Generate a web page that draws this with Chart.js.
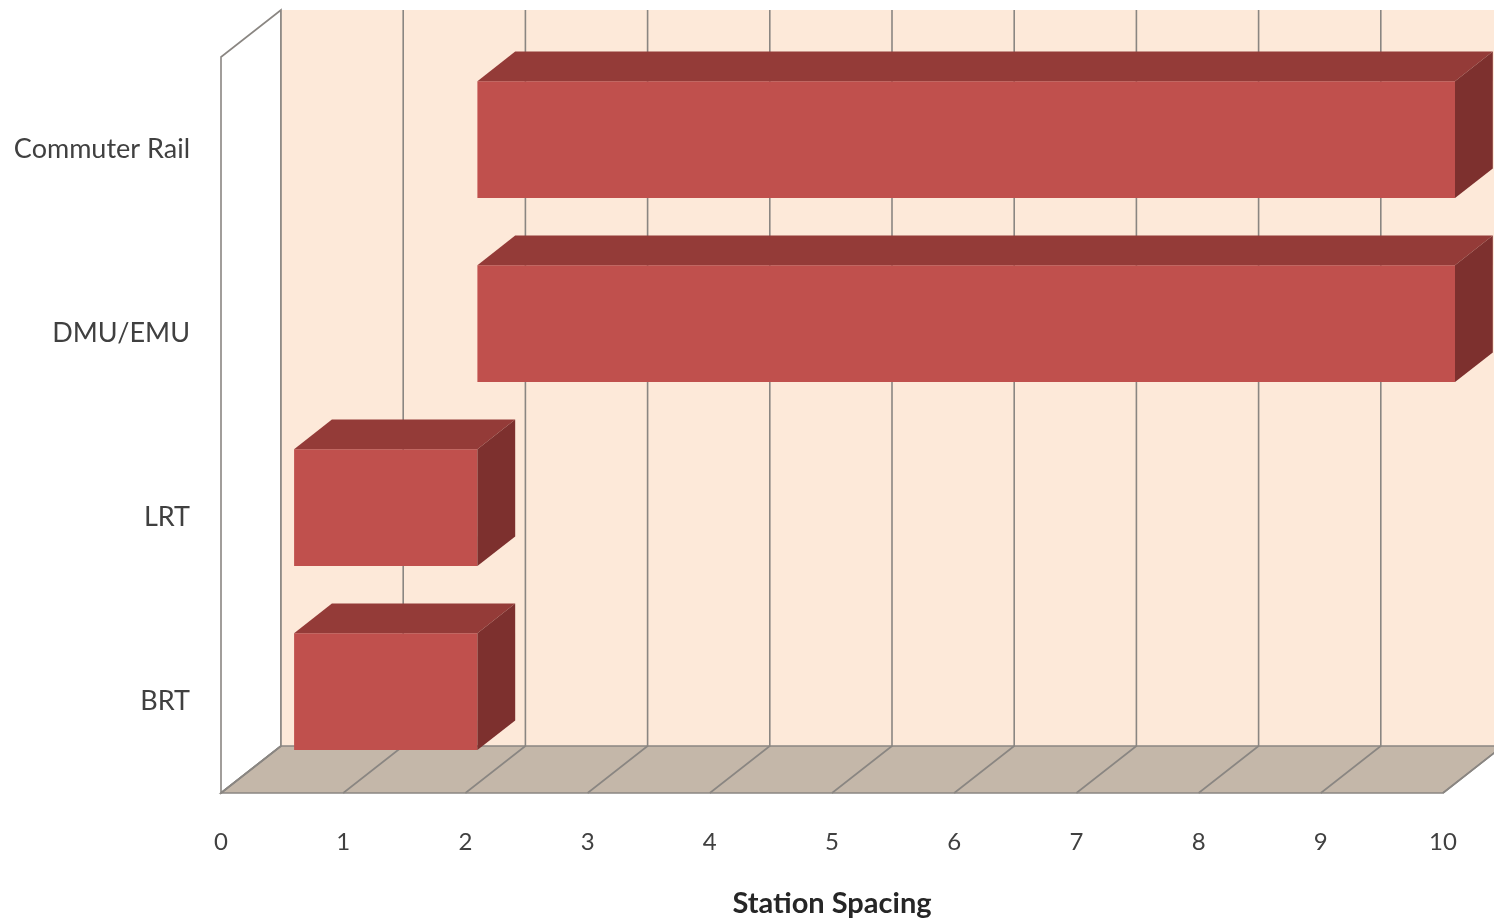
<!DOCTYPE html>
<html>
<head>
<meta charset="utf-8">
<script src="https://cdn.jsdelivr.net/npm/chart.js@4.4.1/dist/chart.umd.min.js"></script>
<style>
    html, body { margin: 0; padding: 0; background: #ffffff; }
    #wrap { width: 1494px; height: 921px; }
</style>
</head>
<body>
<div id="wrap"><canvas id="chart" width="1494" height="921"></canvas></div>
<script>
// Chart values
const modes = ['Commuter Rail', 'DMU/EMU', 'LRT', 'BRT'];
const spacingMin = [2, 2, 0.5, 0.5];
const spacingMax = [10, 10, 2, 2];
const xTicks = [0, 1, 2, 3, 4, 5, 6, 7, 8, 9, 10];

// Perspective of the 3-D box (offset of the back wall from the front plane)
const depth = { dx: 60, dy: -47 };
const barDepth = { front: 0.2, back: 0.83 };

const colors = {
    front: '#c0504d',
    top: '#943b38',
    side: '#7d302e',
    wall: '#fde9d9',
    floor: '#c4b7a9',
    grid: '#8a8682',
    text: '#404040'
};

/**
* Draws the walls, floor and grid behind the bars and the faces of every bar
*/
const excel3d = {
    id: 'excel3d',
    beforeDatasetsDraw(chart) {
        const { ctx, chartArea: { left, right, top, bottom }, scales: { x } } = chart;
        const { dx, dy } = depth;

        ctx.save();
        ctx.lineWidth = 1.6;
        ctx.strokeStyle = colors.grid;

        // Left side wall
        ctx.beginPath();
        ctx.moveTo(left, bottom);
        ctx.lineTo(left, top);
        ctx.lineTo(left + dx, top + dy);
        ctx.lineTo(left + dx, bottom + dy);
        ctx.closePath();
        ctx.fillStyle = '#ffffff';
        ctx.fill();
        ctx.stroke();

        // Back wall
        ctx.fillStyle = colors.wall;
        ctx.fillRect(left + dx, top + dy, right - left, bottom - top);

        // Floor
        ctx.beginPath();
        ctx.moveTo(left, bottom);
        ctx.lineTo(right, bottom);
        ctx.lineTo(right + dx, bottom + dy);
        ctx.lineTo(left + dx, bottom + dy);
        ctx.closePath();
        ctx.fillStyle = colors.floor;
        ctx.fill();
        ctx.stroke();

        // Grid lines on the back wall and floor
        for (const v of xTicks) {
            const px = x.getPixelForValue(v);
            ctx.beginPath();
            ctx.moveTo(px + dx, top + dy);
            ctx.lineTo(px + dx, bottom + dy);
            ctx.lineTo(px, bottom);
            ctx.stroke();
        }
        ctx.restore();

        // Bars sit a little behind the front plane
        ctx.save();
        ctx.translate(dx * barDepth.front, dy * barDepth.front);
    },
    afterDatasetsDraw(chart) {
        const { ctx } = chart;
        const ddx = depth.dx * (barDepth.back - barDepth.front);
        const ddy = depth.dy * (barDepth.back - barDepth.front);

        chart.getDatasetMeta(0).data.forEach(bar => {
            const { x, y, base, height } = bar.getProps(['x', 'y', 'base', 'height'], true);
            const l = Math.min(x, base), r = Math.max(x, base);
            const t = y - height / 2, b = y + height / 2;

            ctx.fillStyle = colors.top;
            ctx.beginPath();
            ctx.moveTo(l, t);
            ctx.lineTo(l + ddx, t + ddy);
            ctx.lineTo(r + ddx, t + ddy);
            ctx.lineTo(r, t);
            ctx.closePath();
            ctx.fill();

            ctx.fillStyle = colors.side;
            ctx.beginPath();
            ctx.moveTo(r, t);
            ctx.lineTo(r + ddx, t + ddy);
            ctx.lineTo(r + ddx, b + ddy);
            ctx.lineTo(r, b);
            ctx.closePath();
            ctx.fill();
        });
        ctx.restore();
    }
};

new Chart(document.getElementById('chart'), {
    type: 'bar',
    data: {
        labels: modes,
        datasets: [{
            data: modes.map((m, i) => [spacingMin[i], spacingMax[i]]),
            backgroundColor: colors.front,
            borderWidth: 0,
            borderSkipped: false,
            categoryPercentage: 1,
            barPercentage: 0.635,
            clip: false
        }]
    },
    options: {
        indexAxis: 'y',
        responsive: false,
        animation: false,
        layout: { padding: { top: 57, right: 51, left: 0, bottom: 0 } },
        plugins: {
            legend: { display: false },
            tooltip: { enabled: false }
        },
        scales: {
            x: {
                type: 'linear',
                min: 0,
                max: 10,
                afterBuildTicks: (scale) => { scale.ticks = xTicks.map(v => ({ value: v })); },
                afterFit: (scale) => { scale.height = 128; },
                grid: { display: false, drawTicks: false },
                border: { display: false },
                ticks: {
                    padding: 35,
                    color: colors.text,
                    font: { family: 'Lato', size: 24 }
                },
                title: {
                    display: true,
                    text: 'Station Spacing',
                    color: '#262626',
                    padding: { top: 0, bottom: 0 },
                    font: { family: 'Lato', size: 29, weight: 'bold' }
                }
            },
            y: {
                afterFit: (scale) => { scale.width = 221; },
                grid: { display: false, drawTicks: false },
                border: { display: false },
                ticks: {
                    padding: 31,
                    color: colors.text,
                    font: { family: 'Lato', size: 27 }
                }
            }
        }
    },
    plugins: [excel3d]
});
</script>
</body>
</html>
